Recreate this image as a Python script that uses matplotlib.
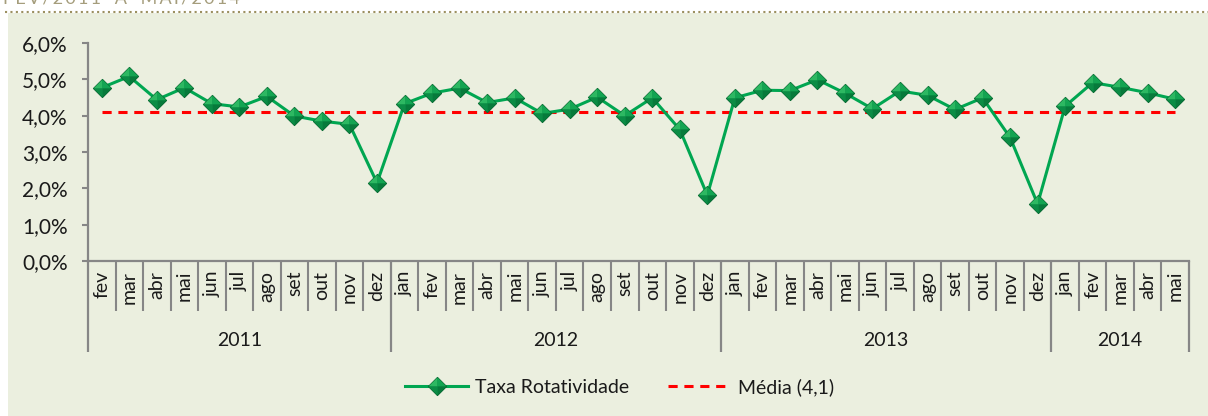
import matplotlib
matplotlib.use("Agg")
import matplotlib.pyplot as plt
from matplotlib.lines import Line2D
from matplotlib.patches import Rectangle
from matplotlib.path import Path
from matplotlib.legend_handler import HandlerTuple
from matplotlib.ticker import FuncFormatter
import numpy as np

plt.rcParams['font.family'] = ['Lato', 'DejaVu Sans']

# ---------------- data ----------------
years = ["2011", "2012", "2013", "2014"]
months_2011 = ["fev", "mar", "abr", "mai", "jun", "jul", "ago", "set", "out", "nov", "dez"]
months_2012 = ["jan", "fev", "mar", "abr", "mai", "jun", "jul", "ago", "set", "out", "nov", "dez"]
months_2013 = ["jan", "fev", "mar", "abr", "mai", "jun", "jul", "ago", "set", "out", "nov", "dez"]
months_2014 = ["jan", "fev", "mar", "abr", "mai"]

taxa_2011 = [4.77, 5.08, 4.44, 4.77, 4.33, 4.24, 4.53, 3.99, 3.85, 3.76, 2.15]
taxa_2012 = [4.33, 4.62, 4.76, 4.36, 4.49, 4.06, 4.18, 4.51, 4.00, 4.49, 3.62, 1.81]
taxa_2013 = [4.49, 4.70, 4.69, 4.99, 4.62, 4.19, 4.68, 4.56, 4.17, 4.49, 3.40, 1.57]
taxa_2014 = [4.26, 4.91, 4.78, 4.63, 4.45]
media = 4.1

title_text = "FEV/2011 A MAI/2014"
serie_label = "Taxa Rotatividade"
media_label = "Média (4,1)"

month_groups = [months_2011, months_2012, months_2013, months_2014]
value_groups = [taxa_2011, taxa_2012, taxa_2013, taxa_2014]
months = sum(month_groups, [])
taxa = np.array(sum(value_groups, []))
x = np.arange(len(months))
media_vals = np.full(len(months), media)

# ---------------- styles ----------------
W, H = 1208, 416
BG = "#EBEFDF"
GREEN = "#00A651"
RED = "#FF0000"
AXC = "#868686"
TXT = "#1A1A1A"

fig = plt.figure(figsize=(W / 100, H / 100), dpi=100)
fig.patch.set_facecolor("white")

# chart area background (behind axes)
fig.patches.append(Rectangle((8 / W, 0), 1 - 8 / W, 1 - 13 / H, transform=fig.transFigure,
                             facecolor=BG, edgecolor="none", zorder=-5))
# dotted separator line at top
fig.add_artist(Line2D([5 / W, 1], [1 - 11.7 / H] * 2, transform=fig.transFigure,
                      color="#9C9060", lw=1.5, dashes=(1, 1.6), solid_capstyle="butt", zorder=-4))
# cut-off title (letter spaced), as in the reference
fig.text(3 / W, 1 - 3.5 / H, "\u2009".join(title_text).replace(" ", "  "), color="#A59D7C",
         fontsize=13, ha="left", va="baseline")

ax_left, ax_right, ax_top, ax_bot = 88, 1189, 43, 261
ax = fig.add_axes([ax_left / W, 1 - ax_bot / H, (ax_right - ax_left) / W, (ax_bot - ax_top) / H])
ax.set_facecolor("none")
ax_h = ax_bot - ax_top

# facet markers (pyramid look)
c, t, r, b, l = (0, 0), (0, 1), (1, 0), (0, -1), (-1, 0)
def tri(p1, p2):
    return Path([c, p1, p2, c], [Path.MOVETO, Path.LINETO, Path.LINETO, Path.CLOSEPOLY])
full_diamond = Path([t, r, b, l, t], [Path.MOVETO, Path.LINETO, Path.LINETO, Path.LINETO, Path.CLOSEPOLY])
facets = [(tri(l, t), "#2DB862"), (tri(t, r), "#13A452"), (tri(r, b), "#077A3B"), (tri(b, l), "#0B8C45")]
MS = 13

ax.plot(x, media_vals, color=RED, lw=2.2, dashes=(3.0, 2.2), zorder=2)
ax.plot(x, taxa, color=GREEN, lw=2.2, zorder=3)
ax.plot(x, taxa, ls="none", marker=full_diamond, ms=MS, mfc="#0A8A44", mec="#05602C", mew=0.8, zorder=4)
for pth, col in facets:
    ax.plot(x, taxa, ls="none", marker=pth, ms=MS, mfc=col, mec="none", zorder=5)

ax.set_xlim(-0.5, len(months) - 0.5)
ax.set_ylim(0, 6)
ax.set_yticks(np.arange(0, 7, 1))
ax.yaxis.set_major_formatter(FuncFormatter(lambda v, p: f"{v:.1f}%".replace(".", ",")))
ax.tick_params(axis="y", direction="out", length=4.5, width=1.5, color=AXC, pad=10,
               labelsize=15, labelcolor=TXT)
ax.set_xticks(x)
ax.set_xticklabels(months, rotation=90)
ax.tick_params(axis="x", length=0, pad=7, labelsize=14, labelcolor=TXT)
for s in ["top", "right"]:
    ax.spines[s].set_visible(False)
for s in ["left", "bottom"]:
    ax.spines[s].set_color(AXC)
    ax.spines[s].set_linewidth(1.6)

# category separators
trans = ax.get_xaxis_transform()
bounds = np.cumsum([0] + [len(g) for g in month_groups])
month_depth = -50 / ax_h
year_depth = -91 / ax_h
for i in range(1, len(months)):
    if i not in bounds:
        ax.plot([i - 0.5, i - 0.5], [0, month_depth], transform=trans, color=AXC, lw=1.5,
                clip_on=False, solid_capstyle="butt")
for bnd in bounds:
    ax.plot([bnd - 0.5, bnd - 0.5], [0, year_depth], transform=trans, color=AXC, lw=1.6,
            clip_on=False, solid_capstyle="butt")
for k, yr in enumerate(years):
    ax.text((bounds[k] + bounds[k + 1] - 1) / 2, -79 / ax_h, yr, transform=trans,
            ha="center", va="center", fontsize=14, color=TXT)

# legend
h_line = Line2D([], [], color=GREEN, lw=2.2)
h_base = Line2D([], [], ls="none", marker=full_diamond, ms=MS, mfc="#0A8A44", mec="#05602C", mew=0.8)
h_facets = [Line2D([], [], ls="none", marker=p, ms=MS, mfc=col, mec="none") for p, col in facets]
h_media = Line2D([], [], color=RED, lw=2.2, dashes=(3.0, 2.2))
leg = fig.legend([tuple([h_line, h_base] + h_facets), h_media], [serie_label, media_label],
                 handler_map={tuple: HandlerTuple(ndivide=1, pad=0)},
                 loc="center", bbox_to_anchor=(620 / W, 1 - 387 / H), bbox_transform=fig.transFigure,
                 ncol=2, frameon=False, fontsize=14, handlelength=3.2, handletextpad=0.4,
                 columnspacing=2.0, numpoints=1, labelcolor=TXT)

fig.savefig("out.png", dpi=100, facecolor=fig.get_facecolor())
